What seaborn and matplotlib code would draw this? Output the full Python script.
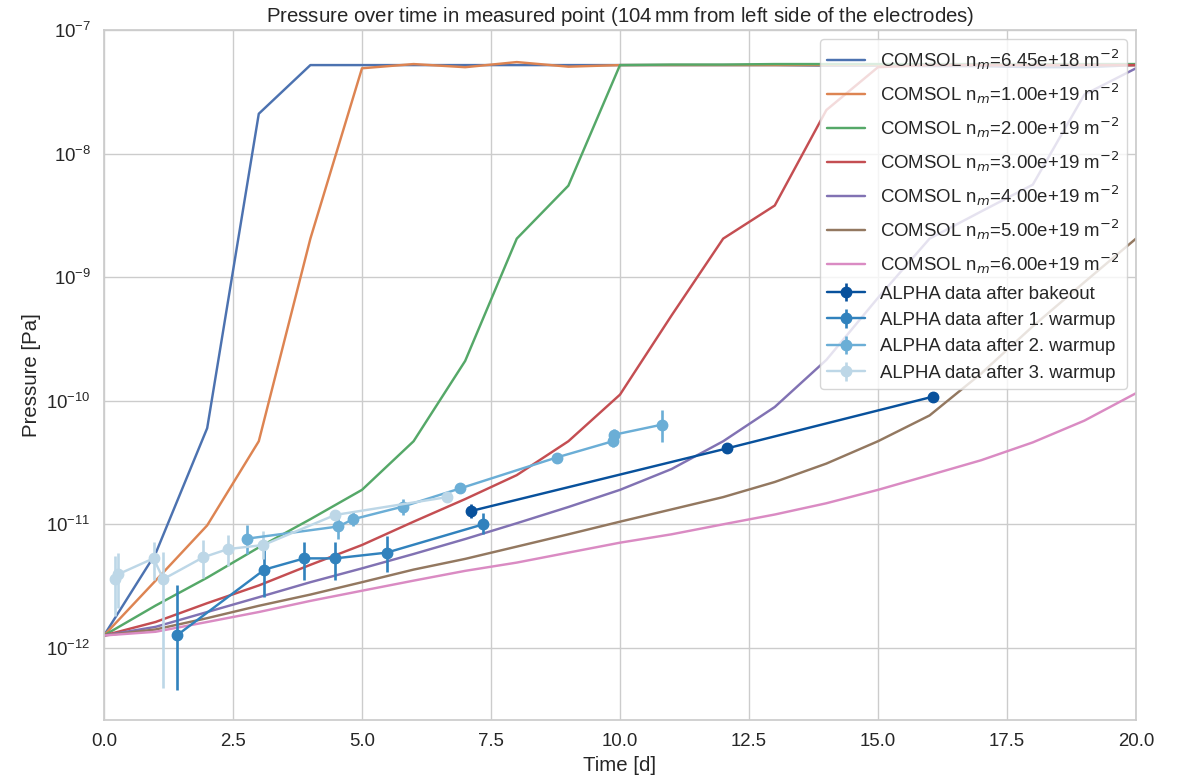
import numpy as np
import matplotlib
matplotlib.use("Agg")
import matplotlib.pyplot as plt
import seaborn as sns

# Simulation time grid [d]
days = np.arange(0, 21)

# COMSOL pressure curves [Pa] for different surface monolayer densities
p_645e18 = [1.26e-12, 5.8e-12, 6.0e-11, 2.1e-8, 5.2e-8, 5.2e-8, 5.2e-8, 5.2e-8,
            5.2e-8, 5.2e-8, 5.2e-8, 5.2e-8, 5.2e-8, 5.2e-8, 5.15e-8, 5.15e-8,
            5.1e-8, 5.1e-8, 5.0e-8, 5.0e-8, 5.2e-8]
p_100e19 = [1.26e-12, 3.5e-12, 9.8e-12, 4.7e-11, 2.05e-9, 4.9e-8, 5.3e-8, 5.0e-8,
            5.5e-8, 5.05e-8, 5.2e-8, 5.2e-8, 5.2e-8, 5.2e-8, 5.2e-8, 5.2e-8,
            5.2e-8, 5.2e-8, 5.2e-8, 5.2e-8, 5.2e-8]
p_200e19 = [1.26e-12, 2.2e-12, 3.7e-12, 6.5e-12, 1.1e-11, 1.9e-11, 4.7e-11, 2.1e-10,
            2.05e-9, 5.5e-9, 5.2e-8, 5.25e-8, 5.25e-8, 5.3e-8, 5.3e-8, 5.3e-8,
            5.3e-8, 5.3e-8, 5.3e-8, 5.3e-8, 5.3e-8]
p_300e19 = [1.26e-12, 1.62e-12, 2.3e-12, 3.2e-12, 4.7e-12, 6.8e-12, 1.05e-11, 1.6e-11,
            2.5e-11, 4.7e-11, 1.12e-10, 4.9e-10, 2.05e-9, 3.8e-9, 2.25e-8, 5.0e-8,
            5.2e-8, 5.2e-8, 5.2e-8, 5.2e-8, 5.2e-8]
p_400e19 = [1.26e-12, 1.48e-12, 1.95e-12, 2.57e-12, 3.4e-12, 4.4e-12, 5.75e-12, 7.6e-12,
            1.02e-11, 1.38e-11, 1.9e-11, 2.8e-11, 4.7e-11, 8.9e-11, 2.14e-10, 6.8e-10,
            2.05e-9, 3.4e-9, 5.6e-9, 3.0e-8, 4.9e-8]
p_500e19 = [1.26e-12, 1.41e-12, 1.74e-12, 2.19e-12, 2.7e-12, 3.4e-12, 4.3e-12, 5.25e-12,
            6.6e-12, 8.3e-12, 1.05e-11, 1.32e-11, 1.66e-11, 2.2e-11, 3.1e-11, 4.7e-11,
            7.6e-11, 1.66e-10, 4.0e-10, 9.1e-10, 2.05e-9]
p_600e19 = [1.26e-12, 1.35e-12, 1.62e-12, 1.95e-12, 2.4e-12, 2.9e-12, 3.5e-12, 4.2e-12,
            4.9e-12, 5.9e-12, 7.1e-12, 8.3e-12, 1.0e-11, 1.2e-11, 1.48e-11, 1.9e-11,
            2.5e-11, 3.3e-11, 4.6e-11, 6.9e-11, 1.15e-10]

comsol_curves = [p_645e18, p_100e19, p_200e19, p_300e19, p_400e19, p_500e19, p_600e19]
comsol_labels = [
    r"COMSOL n$_m$=6.45e+18 m$^{-2}$",
    r"COMSOL n$_m$=1.00e+19 m$^{-2}$",
    r"COMSOL n$_m$=2.00e+19 m$^{-2}$",
    r"COMSOL n$_m$=3.00e+19 m$^{-2}$",
    r"COMSOL n$_m$=4.00e+19 m$^{-2}$",
    r"COMSOL n$_m$=5.00e+19 m$^{-2}$",
    r"COMSOL n$_m$=6.00e+19 m$^{-2}$",
]

# Measured ALPHA pressures [Pa] with lower / upper uncertainties
t_bake = [7.11, 12.08, 16.07]
p_bake = [1.28e-11, 4.12e-11, 1.08e-10]
lo_bake = [1.5e-12, 1.5e-12, 3e-12]
hi_bake = [1.7e-12, 1.5e-12, 3e-12]

t_warm1 = [1.41, 3.11, 3.88, 4.48, 5.48, 7.35]
p_warm1 = [1.26e-12, 4.3e-12, 5.3e-12, 5.3e-12, 5.9e-12, 1.0e-11]
lo_warm1 = [0.8e-12, 1.7e-12, 1.75e-12, 1.75e-12, 1.8e-12, 1.65e-12]
hi_warm1 = [1.98e-12, 2.9e-12, 1.9e-12, 1.9e-12, 2.15e-12, 2.3e-12]

t_warm2 = [2.78, 4.54, 4.83, 5.79, 6.90, 8.77, 9.86, 9.88, 10.81]
p_warm2 = [7.66e-12, 9.6e-12, 1.1e-11, 1.39e-11, 1.95e-11, 3.47e-11, 4.7e-11, 5.3e-11, 6.4e-11]
lo_warm2 = [1.9e-12, 2.0e-12, 1.4e-12, 1.9e-12, 5e-13, 1e-12, 5e-12, 5e-12, 1.8e-11]
hi_warm2 = [2.2e-12, 2.7e-12, 1.7e-12, 2.1e-12, 5e-13, 1e-12, 6e-12, 6e-12, 2.0e-11]

t_warm3 = [0.21, 0.28, 0.96, 1.15, 1.92, 2.40, 3.09, 4.48, 6.65]
p_warm3 = [3.6e-12, 3.95e-12, 5.3e-12, 3.6e-12, 5.4e-12, 6.3e-12, 6.8e-12, 1.19e-11, 1.66e-11]
lo_warm3 = [1.8e-12, 1.85e-12, 1.75e-12, 3.13e-12, 1.7e-12, 1.7e-12, 1.6e-12, 8e-13, 5e-13]
hi_warm3 = [1.9e-12, 1.95e-12, 1.9e-12, 2.4e-12, 2.0e-12, 1.9e-12, 2.1e-12, 8e-13, 5e-13]

alpha_sets = [
    ("ALPHA data after bakeout", t_bake, p_bake, lo_bake, hi_bake, "#08519c"),
    ("ALPHA data after 1. warmup", t_warm1, p_warm1, lo_warm1, hi_warm1, "#3182bd"),
    ("ALPHA data after 2. warmup", t_warm2, p_warm2, lo_warm2, hi_warm2, "#6baed6"),
    ("ALPHA data after 3. warmup", t_warm3, p_warm3, lo_warm3, hi_warm3, "#bdd7e7"),
]

y_ticks = [1e-12, 1e-11, 1e-10, 1e-9, 1e-8, 1e-7]

sns.set_theme(style="whitegrid", font_scale=1.22)
plt.rcParams["font.family"] = ["Liberation Sans", "DejaVu Sans"]

fig, ax = plt.subplots(figsize=(11.79, 7.77), dpi=100)
fig.subplots_adjust(left=0.0882, right=0.9635, top=0.9614, bottom=0.0734)

palette = sns.color_palette("deep", 7)
for vals, lbl, col in zip(comsol_curves, comsol_labels, palette):
    sns.lineplot(x=days, y=vals, color=col, label=lbl, linewidth=1.75, ax=ax)

for lbl, t, p, lo, hi, col in alpha_sets:
    ax.errorbar(t, p, yerr=[lo, hi], fmt="o-", color=col, markersize=7.5,
                linewidth=1.75, elinewidth=1.9, capsize=0, label=lbl)

ax.set_yscale("log")
ax.set_xlim(0, 20)
ax.set_ylim(2.61e-13, 1e-7)
ax.set_yticks(y_ticks)
ax.minorticks_off()
ax.set_xlabel("Time [d]")
ax.set_ylabel("Pressure [Pa]")
ax.set_title(r"Pressure over time in measured point (104$\,$mm from left side of the electrodes)")
ax.legend(loc="upper right")

fig.savefig("out.png", dpi=100)
